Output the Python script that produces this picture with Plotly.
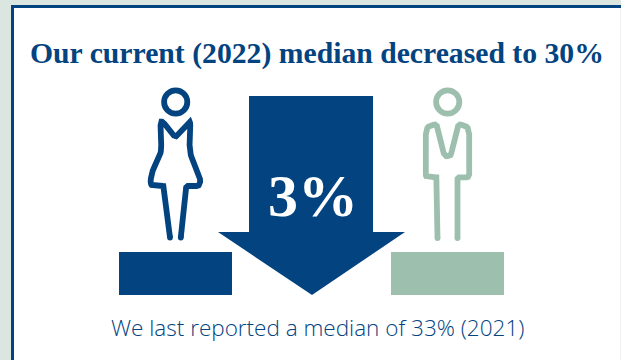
import plotly.graph_objects as go

# Copy
title_text = "Our current (2022) median decreased to 30%"
change_label = "3%"
footer_text = "We last reported a median of 33% (2021)"

# Palette
NAVY = "#03437f"
SAGE = "#9dbfae"
PAGE = "#dce6e0"

# Pictogram outlines as (x, y, corner radius), in canvas pixels
woman_outline = [
    (170, 237.5, 0), (164.5, 186, 1.5), (150.5, 186, 4), (151, 174, 5), (161.5, 153, 8),
    (160.3, 118.5, 7), (175.4, 137.5, 2.5),
    (190.5, 118.5, 7), (189.3, 153, 8), (199.8, 174, 5), (200.3, 186, 4), (186.3, 186, 1.5), (180.8, 237.5, 0),
]
man_outline = [
    (437.5, 238, 0), (437.5, 177.3, 1.5), (425.8, 177.3, 3), (425.8, 124, 10.5), (436.5, 124.5, 1.5),
    (444.5, 156.3, 3), (450.5, 156.3, 3),
    (458.5, 124.5, 1.5), (469.2, 124, 10.5), (469.2, 177.3, 3), (457.5, 177.3, 1.5), (457.5, 238, 0),
]
head_centres = [175.7, 447.7]
head_y = 102
head_radius = 11.6
figure_stroke = 5.8

# Podiums under the figures
podium_x = [175.5, 447.5]
podium_width = 113
podium_top = 252
podium_height = 43
podium_colors = [NAVY, SAGE]

# Downward arrow
arrow_x = [249, 373, 373, 405, 312, 218, 249, 249]
arrow_y = [96, 96, 232, 232, 295, 232, 232, 96]


def rounded_path(outline, steps=8):
    """Expand a polyline into dense points with quadratic corners."""
    xs, ys = [], []
    for i, (x, y, r) in enumerate(outline):
        if r == 0:
            xs.append(x)
            ys.append(y)
            continue
        px, py, _ = outline[i - 1]
        nx, ny, _ = outline[i + 1]
        d1 = ((px - x) ** 2 + (py - y) ** 2) ** 0.5
        d2 = ((nx - x) ** 2 + (ny - y) ** 2) ** 0.5
        ax, ay = x + (px - x) * r / d1, y + (py - y) * r / d1
        bx, by = x + (nx - x) * r / d2, y + (ny - y) * r / d2
        for s in range(steps + 1):
            t = s / steps
            xs.append((1 - t) ** 2 * ax + 2 * t * (1 - t) * x + t ** 2 * bx)
            ys.append((1 - t) ** 2 * ay + 2 * t * (1 - t) * y + t ** 2 * by)
    return xs, ys


fig = go.Figure()

fig.add_trace(go.Bar(
    x=podium_x, y=[podium_height] * 2, base=[podium_top] * 2,
    width=[podium_width] * 2, marker=dict(color=podium_colors, line_width=0),
))
fig.add_trace(go.Scatter(
    x=arrow_x, y=arrow_y, mode="lines", fill="toself",
    fillcolor=NAVY, line=dict(width=0),
))

for outline, color in [(woman_outline, NAVY), (man_outline, SAGE)]:
    xs, ys = rounded_path(outline)
    fig.add_trace(go.Scatter(
        x=xs, y=ys, mode="lines",
        line=dict(color=color, width=figure_stroke),
    ))
    # Rounded feet
    fig.add_trace(go.Scatter(
        x=[xs[0], xs[-1]], y=[ys[0], ys[-1]], mode="markers",
        marker=dict(color=color, size=figure_stroke, line_width=0),
    ))

panel_shapes = [
    dict(type="rect", x0=0, x1=621, y0=0, y1=360, fillcolor=PAGE, line_width=0, layer="below"),
    dict(type="rect", x0=11, x1=621, y0=5, y1=360, fillcolor=NAVY, line_width=0, layer="below"),
    dict(type="rect", x0=14, x1=620, y0=8, y1=360, fillcolor="white", line_width=0, layer="below"),
    dict(type="rect", x0=620, x1=621, y0=8, y1=360, fillcolor="#eef1ef", line_width=0, layer="below"),
]
head_shapes = [
    dict(type="circle", x0=cx - head_radius, x1=cx + head_radius,
         y0=head_y - head_radius, y1=head_y + head_radius,
         line=dict(color=color, width=figure_stroke), fillcolor="rgba(0,0,0,0)")
    for cx, color in zip(head_centres, [NAVY, SAGE])
]

annotations = [
    dict(x=317, y=53, text=f"<b>{title_text}</b>", showarrow=False, xanchor="center", yanchor="middle",
         font=dict(family="Liberation Serif", size=29.7, color=NAVY)),
    dict(x=313, y=196, text=f"<b>{change_label}</b>", showarrow=False, xanchor="center", yanchor="middle",
         font=dict(family="Liberation Serif", size=60, color="white")),
    dict(x=317.5, y=327, text=footer_text, showarrow=False, xanchor="center", yanchor="middle",
         font=dict(family="Open Sans", size=22.5, weight=300, color=NAVY)),
]

fig.update_layout(
    width=621, height=360,
    margin=dict(l=0, r=0, t=0, b=0),
    paper_bgcolor=PAGE, plot_bgcolor=PAGE,
    showlegend=False, hovermode=False,
    shapes=panel_shapes + head_shapes,
    annotations=annotations,
    xaxis=dict(range=[0, 621], visible=False, fixedrange=True),
    yaxis=dict(range=[360, 0], visible=False, fixedrange=True),
)

fig.write_html("out.html", config={"displayModeBar": False})
